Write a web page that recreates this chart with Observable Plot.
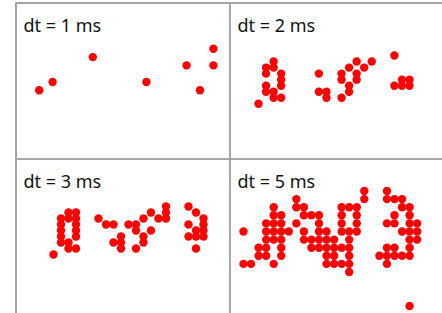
<!DOCTYPE html>
<html><head><meta charset="utf-8">
<script src="https://cdn.jsdelivr.net/npm/d3@7"></script>
<script src="https://cdn.jsdelivr.net/npm/@observablehq/plot@0.6"></script>
<style>
html,body{margin:0;padding:0;background:#fff;width:442px;height:313px;overflow:hidden;}
#wrap{position:relative;width:442px;height:313px;overflow:hidden;}
.cell{position:absolute;width:214px;height:156px;}
.rule{position:absolute;background:#a6a6a6;}
</style></head><body><div id="wrap"></div>
<script>
// Panel titles
const panelLabels = ["dt = 1 ms", "dt = 2 ms", "dt = 3 ms", "dt = 5 ms"];

// Points as [column, row] on each panel's bin grid (row counted downward)
const dt1Points = [[0,5],[1,4],[4,1],[8,4],[11,2],[12,5],[13,0],[13,2]];

const dt2Points = [
  [0,8],[1,2],[1,3],[1,5],[1,6],[2,1],[2,2],[2,6],[2,7],[3,3],[3,4],[3,5],[3,7],
  [8,3],[8,6],[9,6],[9,7],[11,3],[11,4],[11,7],[12,2],[12,5],[12,6],[13,1],[13,3],[13,4],[14,2],[15,1],
  [18,0],[18,5],[19,4],[19,5],[20,4],[20,5]
];

const dt3Points = [
  [0,8],[1,2],[1,3],[1,4],[1,5],[1,6],[2,1],[2,2],[2,6],[2,7],[3,1],[3,2],[3,3],[3,4],[3,5],[3,7],
  [6,2],[7,3],[8,3],[8,6],[9,5],[9,6],[9,7],[10,3],[11,3],[11,4],[11,7],[12,2],[12,5],[12,6],[13,1],[13,4],[14,2],[15,0],[15,1],[15,2],
  [18,0],[18,3],[18,5],[19,1],[19,4],[19,5],[19,7],[20,2],[20,3],[20,4],[20,5]
];

const dt5Points = [
  [4,2],[4,3],[5,3],[3,4],[4,4],[5,4],[0,5],[3,5],[4,5],[5,5],[6,5],[3,6],[4,6],[5,6],[2,7],[3,7],[5,7],[2,8],[3,8],[5,8],[0,9],[1,9],[4,9],
  [16,0],[7,1],[16,1],[7,2],[8,2],[13,2],[14,2],[15,2],[8,3],[9,3],[10,3],[13,3],[15,3],[7,4],[10,4],[13,4],[15,4],
  [8,5],[10,5],[11,5],[13,5],[14,5],[15,5],[8,6],[9,6],[10,6],[11,6],[12,6],[14,6],[9,7],[10,7],[11,7],[12,7],[13,7],[14,7],
  [11,8],[12,8],[14,8],[11,9],[12,9],[13,9],[14,9],[14,10],
  [19,0],[19,1],[20,1],[21,1],[21,2],[22,2],[20,3],[22,3],[19,4],[20,4],[22,4],[23,4],[21,5],[22,5],[23,5],[22,6],[23,6],
  [19,7],[20,7],[22,7],[18,8],[19,8],[20,8],[21,8],[22,8],[19,9],[22,14.2]
];

const panelPoints = [dt1Points, dt2Points, dt3Points, dt5Points];

// Layout of each cell (pixel placement of the bin grid)
const layout = [
  {left: 16,  top: 3,   x0: 22.7, xs: 13.4, y0: 45.3, ys: 8.3},
  {left: 230, top: 3,   x0: 28,   xs: 7.55, y0: 52,   ys: 6.04},
  {left: 16,  top: 159, x0: 37,   xs: 7.5,  y0: 47,   ys: 6},
  {left: 230, top: 159, x0: 13,   xs: 7.55, y0: 31.5, ys: 8.1}
];

const wrap = document.getElementById("wrap");

panelPoints.forEach((pts, i) => {
  const L = layout[i];
  const cell = document.createElement("div");
  cell.className = "cell";
  cell.style.left = L.left + "px";
  cell.style.top = L.top + "px";
  const chart = Plot.plot({
    width: 214, height: 156,
    marginTop: 0, marginRight: 0, marginBottom: 0, marginLeft: 0,
    style: {background: "transparent", overflow: "visible"},
    x: {axis: null, domain: [0, 1], range: [L.x0, L.x0 + L.xs]},
    y: {axis: null, domain: [0, 1], range: [L.y0, L.y0 + L.ys]},
    marks: [
      Plot.dot(pts, {x: d => d[0], y: d => d[1], r: 4.2, fill: "#ff0000", stroke: "none"}),
      Plot.text([panelLabels[i]], {
        text: d => d, frameAnchor: "top-left", dx: 7, dy: 15.7,
        lineAnchor: "top", textAnchor: "start",
        fontSize: 18, fontFamily: "Noto Sans", fill: "#111"
      })
    ]
  });
  cell.appendChild(chart);
  wrap.appendChild(cell);
});

// Table rules
const rules = [
  {left: 15, top: 2, width: 427, height: 2},
  {left: 15, top: 158, width: 427, height: 2},
  {left: 15, top: 2, width: 2, height: 311},
  {left: 229, top: 2, width: 2, height: 311}
];
rules.forEach(r => {
  const d = document.createElement("div");
  d.className = "rule";
  Object.assign(d.style, {left: r.left + "px", top: r.top + "px", width: r.width + "px", height: r.height + "px"});
  wrap.appendChild(d);
});
</script>
</body></html>
